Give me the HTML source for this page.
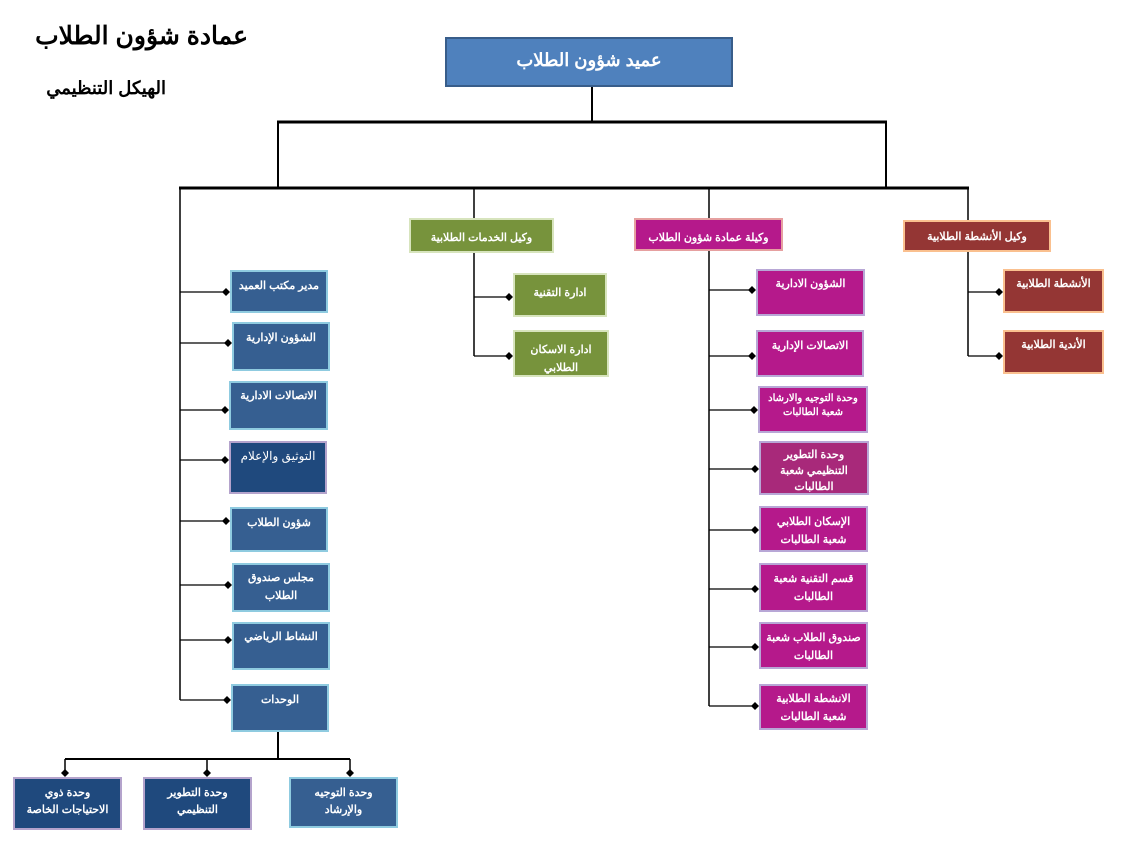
<!DOCTYPE html>
<html><head><meta charset="utf-8"><style>
body{margin:0;width:1133px;height:855px;background:#fff;position:relative;overflow:hidden;font-family:"Liberation Sans","Noto Sans CJK SC",sans-serif;}
.b{position:absolute;box-sizing:border-box;color:#fff;font-weight:bold;font-size:11px;text-align:center;direction:rtl;padding-top:9px;line-height:18px;white-space:nowrap;overflow:hidden;}
.bl{background:#365f91;border:2px solid #8fcbe0;}
.dk{background:#1f497d;border:2px solid #b4a3cc;}
.gr{background:#77933c;border:2px solid #d7e4bd;}
.mg{background:#b5198b;border:2px solid #b8a7d6;}
.rd{background:#943634;border:2px solid #fac08f;}
.t{position:absolute;font-weight:bold;color:#000;direction:rtl;white-space:nowrap;}
</style></head><body>
<div class="t" style="left:38px;top:21px;width:210px;text-align:right;font-size:25px;">عمادة شؤون الطلاب</div>
<div class="t" style="left:36px;top:78px;width:130px;text-align:right;font-size:18px;">الهيكل التنظيمي</div>

<svg width="1133" height="855" style="position:absolute;left:0;top:0">
<g stroke="#000" fill="none">
<line x1="592" y1="87" x2="592" y2="122" stroke-width="2"/>
<line x1="277" y1="122" x2="887" y2="122" stroke-width="3"/>
<line x1="278" y1="122" x2="278" y2="188" stroke-width="2"/>
<line x1="886" y1="122" x2="886" y2="188" stroke-width="2"/>
<line x1="179" y1="188" x2="969" y2="188" stroke-width="3"/>
<line x1="180" y1="188" x2="180" y2="700" stroke-width="1.5"/>
<line x1="474" y1="188" x2="474" y2="218" stroke-width="1.5"/>
<line x1="709" y1="188" x2="709" y2="218" stroke-width="1.5"/>
<line x1="968" y1="188" x2="968" y2="220" stroke-width="1.5"/>
<line x1="474" y1="253" x2="474" y2="356" stroke-width="1.5"/>
<line x1="709" y1="251" x2="709" y2="706" stroke-width="1.5"/>
<line x1="968" y1="252" x2="968" y2="356" stroke-width="1.5"/>
<line x1="278" y1="732" x2="278" y2="759" stroke-width="2"/>
<line x1="65" y1="759" x2="350" y2="759" stroke-width="2"/>
<line x1="65" y1="759" x2="65" y2="773" stroke-width="1.5"/>
<line x1="207" y1="759" x2="207" y2="773" stroke-width="1.5"/>
<line x1="350" y1="759" x2="350" y2="773" stroke-width="1.5"/>
<g stroke-width="1.2">
<line x1="180" y1="292" x2="226" y2="292"/><line x1="180" y1="343" x2="228" y2="343"/>
<line x1="180" y1="410" x2="225" y2="410"/><line x1="180" y1="460" x2="225" y2="460"/>
<line x1="180" y1="521" x2="226" y2="521"/><line x1="180" y1="585" x2="228" y2="585"/>
<line x1="180" y1="640" x2="228" y2="640"/><line x1="180" y1="700" x2="227" y2="700"/>
<line x1="474" y1="297" x2="509" y2="297"/><line x1="474" y1="356" x2="509" y2="356"/>
<line x1="709" y1="290" x2="752" y2="290"/><line x1="709" y1="356" x2="752" y2="356"/>
<line x1="709" y1="410" x2="754" y2="410"/><line x1="709" y1="469" x2="755" y2="469"/>
<line x1="709" y1="530" x2="755" y2="530"/><line x1="709" y1="589" x2="755" y2="589"/>
<line x1="709" y1="647" x2="755" y2="647"/><line x1="709" y1="706" x2="755" y2="706"/>
<line x1="968" y1="292" x2="999" y2="292"/><line x1="968" y1="356" x2="999" y2="356"/>
</g></g>
<g fill="#000">
<path d="M226 288l4 4-4 4-4-4z"/><path d="M228 339l4 4-4 4-4-4z"/>
<path d="M225 406l4 4-4 4-4-4z"/><path d="M225 456l4 4-4 4-4-4z"/>
<path d="M226 517l4 4-4 4-4-4z"/><path d="M228 581l4 4-4 4-4-4z"/>
<path d="M228 636l4 4-4 4-4-4z"/><path d="M227 696l4 4-4 4-4-4z"/>
<path d="M509 293l4 4-4 4-4-4z"/><path d="M509 352l4 4-4 4-4-4z"/>
<path d="M752 286l4 4-4 4-4-4z"/><path d="M752 352l4 4-4 4-4-4z"/>
<path d="M754 406l4 4-4 4-4-4z"/><path d="M755 465l4 4-4 4-4-4z"/>
<path d="M755 526l4 4-4 4-4-4z"/><path d="M755 585l4 4-4 4-4-4z"/>
<path d="M755 643l4 4-4 4-4-4z"/><path d="M755 702l4 4-4 4-4-4z"/>
<path d="M999 288l4 4-4 4-4-4z"/><path d="M999 352l4 4-4 4-4-4z"/>
<path d="M65 769l4 4-4 4-4-4z"/><path d="M207 769l4 4-4 4-4-4z"/><path d="M350 769l4 4-4 4-4-4z"/>
</g>
</svg>

<div class="b" style="left:445px;top:37px;width:288px;height:50px;background:#4f81bd;border:2px solid #385d8a;font-size:18px;padding-top:10px;line-height:22px;">عميد شؤون الطلاب</div>

<div class="b gr" style="left:409px;top:218px;width:145px;height:35px;">وكيل الخدمات الطلابية</div>
<div class="b gr" style="left:513px;top:273px;width:94px;height:44px;">ادارة التقنية</div>
<div class="b gr" style="left:513px;top:330px;width:96px;height:47px;">ادارة الاسكان<br>الطلابي</div>

<div class="b mg" style="left:634px;top:218px;width:149px;height:33px;border-color:#e6a0a0;">وكيلة عمادة شؤون الطلاب</div>
<div class="b mg" style="left:756px;top:269px;width:109px;height:47px;padding-top:4px;">الشؤون الادارية</div>
<div class="b mg" style="left:756px;top:330px;width:108px;height:47px;padding-top:5px;">الاتصالات الإدارية</div>
<div class="b mg" style="left:758px;top:386px;width:110px;height:47px;padding-top:4px;font-size:10px;line-height:14px;">وحدة التوجيه والارشاد<br>شعبة الطالبات</div>
<div class="b mg" style="left:759px;top:441px;width:110px;height:54px;background:#a8297a;padding-top:4px;line-height:16px;">وحدة التطوير<br>التنظيمي شعبة<br>الطالبات</div>
<div class="b mg" style="left:759px;top:506px;width:109px;height:46px;padding-top:5px;">الإسكان الطلابي<br>شعبة الطالبات</div>
<div class="b mg" style="left:759px;top:563px;width:109px;height:49px;padding-top:5px;">قسم التقنية شعبة<br>الطالبات</div>
<div class="b mg" style="left:759px;top:622px;width:109px;height:47px;padding-top:5px;">صندوق الطلاب شعبة<br>الطالبات</div>
<div class="b mg" style="left:759px;top:684px;width:109px;height:46px;padding-top:4px;">الانشطة الطلابية<br>شعبة الطالبات</div>

<div class="b rd" style="left:903px;top:220px;width:148px;height:32px;padding-top:6px;">وكيل الأنشطة الطلابية</div>
<div class="b rd" style="left:1003px;top:269px;width:101px;height:44px;padding-top:4px;">الأنشطة الطلابية</div>
<div class="b rd" style="left:1003px;top:330px;width:101px;height:44px;padding-top:4px;">الأندية الطلابية</div>

<div class="b bl" style="left:230px;top:270px;width:98px;height:43px;padding-top:5px;">مدير مكتب العميد</div>
<div class="b bl" style="left:232px;top:322px;width:98px;height:49px;padding-top:5px;">الشؤون الإدارية</div>
<div class="b bl" style="left:229px;top:381px;width:99px;height:49px;padding-top:4px;">الاتصالات الادارية</div>
<div class="b dk" style="left:229px;top:441px;width:98px;height:53px;padding-top:4px;font-weight:normal;font-size:12px;">التوثيق والإعلام</div>
<div class="b bl" style="left:230px;top:507px;width:98px;height:45px;padding-top:5px;">شؤون الطلاب</div>
<div class="b bl" style="left:232px;top:563px;width:98px;height:49px;padding-top:4px;">مجلس صندوق<br>الطلاب</div>
<div class="b bl" style="left:232px;top:622px;width:98px;height:48px;padding-top:4px;">النشاط الرياضي</div>
<div class="b bl" style="left:231px;top:684px;width:98px;height:48px;padding-top:5px;">الوحدات</div>

<div class="b dk" style="left:13px;top:777px;width:109px;height:53px;padding-top:6px;line-height:17px;">وحدة ذوي<br>الاحتياجات الخاصة</div>
<div class="b dk" style="left:143px;top:777px;width:109px;height:53px;padding-top:6px;line-height:17px;">وحدة التطوير<br>التنظيمي</div>
<div class="b bl" style="left:289px;top:777px;width:109px;height:51px;padding-top:6px;line-height:17px;">وحدة التوجيه<br>والإرشاد</div>
</body></html>
